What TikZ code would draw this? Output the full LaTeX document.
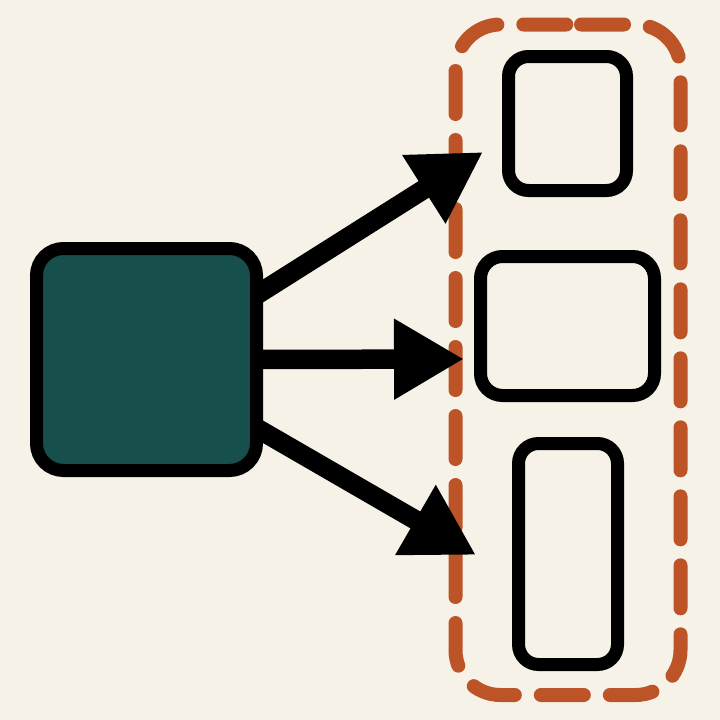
\documentclass[tikz,border=0pt]{standalone}
\usetikzlibrary{arrows.meta}
\definecolor{bg}{RGB}{246,242,231}
\definecolor{teal}{RGB}{22,79,75}
\definecolor{rust}{RGB}{188,84,40}
\tikzset{
  item/.style={draw=black,line width=13pt,rounded corners=20pt,inner sep=0pt,outer sep=0pt,fill=bg},
  srcbox/.style={draw=black,line width=13pt,rounded corners=27pt,inner sep=0pt,outer sep=0pt,fill=teal},
  grpbox/.style={inner sep=0pt,outer sep=0pt},
  grpline/.style={draw=rust,line width=14pt,rounded corners=45pt,line cap=round,dash pattern=on 43pt off 26pt,dash phase=56pt},
  conn/.style={line width=19.5pt,-{Triangle[length=70pt,width=76pt]}}
}
\begin{document}
\begin{tikzpicture}[x=1pt,y=-1pt]
\fill[bg] (0,0) rectangle (720,720);
\useasboundingbox (0,0) rectangle (720,720);
\node[grpbox,minimum width=225pt,minimum height=670.5pt] (group) at (568,359.75) {};
\draw[grpline] (group.north) -- (group.north east) -- (group.south east) -- (group.south west) -- (group.north west) -- (group.north);
\node[srcbox,minimum width=220pt,minimum height=222pt] (src) at (146.5,359.5) {};
\node[item,minimum width=118pt,minimum height=134pt] (top) at (567.5,123.5) {};
\node[item,rounded corners=22pt,minimum width=174pt,minimum height=139pt] (mid) at (567.5,326) {};
\node[item,minimum width=99pt,minimum height=221pt] (bot) at (568,554) {};
\coordinate (t1) at (483,152);
\coordinate (t2) at (464,359);
\coordinate (t3) at (476,555);
\draw[conn] ([yshift=64.5pt]src.east) -- (t1);
\draw[conn] (src.east) -- (t2);
\draw[conn] ([yshift=-68.5pt]src.east) -- (t3);
\end{tikzpicture}
\end{document}
